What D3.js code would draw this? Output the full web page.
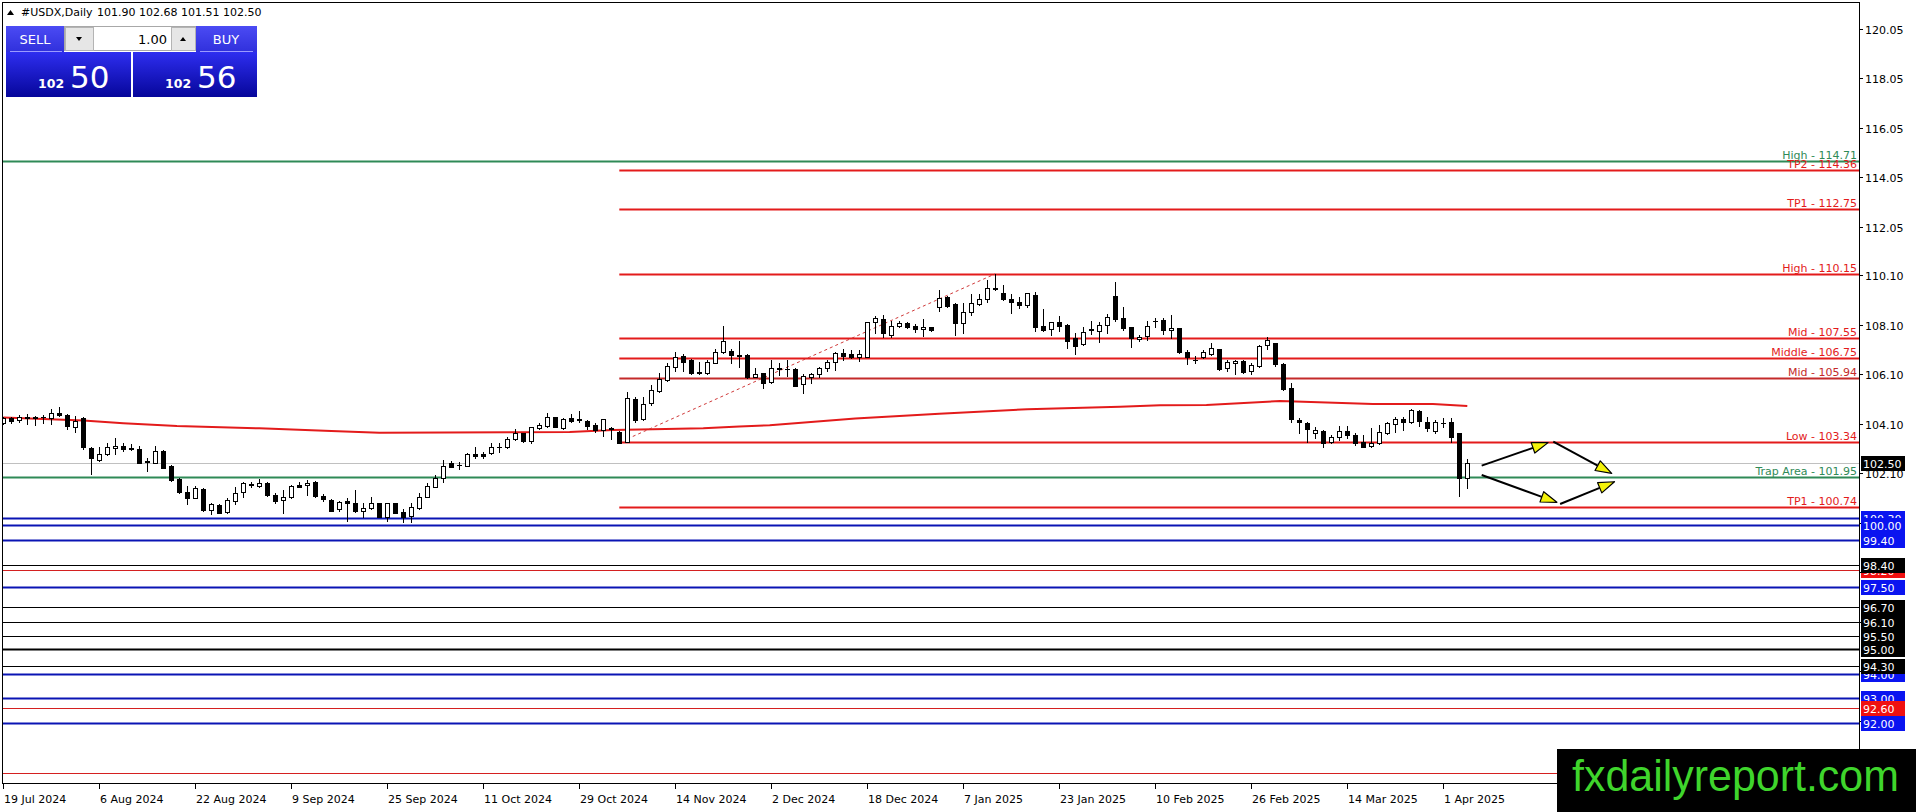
<!DOCTYPE html>
<html><head><meta charset="utf-8">
<script src="https://cdn.jsdelivr.net/npm/d3@7"></script>
<style>
html,body{margin:0;padding:0;background:#fff;overflow:hidden;}
svg{display:block;}
text{font-family:"DejaVu Sans",sans-serif;}
</style></head><body>
<svg id="c" width="1916" height="812"></svg>
<script>
// ---------------- DATA ----------------
const symbolTitle = "#USDX,Daily";
const lastQuote = [101.90, 102.68, 101.51, 102.50];
const bidPrice = ["102", "50"];
const askPrice = ["102", "56"];
const lotSize = "1.00";

const opens = [104.11,104.31,104.24,104.38,104.35,104.35,104.31,104.54,104.45,103.98,104.31,103.10,102.63,102.86,103.10,103.21,103.11,103.07,102.59,102.52,103.01,102.39,101.85,101.34,101.11,101.46,100.61,100.81,100.51,100.99,101.32,101.65,101.59,101.71,101.20,101.01,101.12,101.61,101.62,101.73,101.17,101.01,100.64,100.97,100.88,100.57,100.68,100.88,100.34,100.88,100.52,100.38,100.68,101.15,101.55,101.89,102.52,102.42,102.40,102.86,102.86,102.90,103.14,103.14,103.48,103.71,103.41,103.91,104.02,104.35,103.94,104.33,104.27,104.21,104.03,103.84,103.91,103.77,103.37,105.09,104.27,104.95,105.43,105.86,106.40,106.83,106.67,106.20,106.13,106.56,106.98,107.05,106.86,106.87,106.00,106.13,105.77,106.33,106.30,106.29,105.70,105.99,106.09,106.33,106.58,106.94,106.90,106.80,106.80,108.19,108.31,107.68,108.04,108.15,108.04,107.92,107.99,108.80,109.23,108.93,108.18,108.62,108.93,109.12,109.57,109.36,109.12,109.00,108.87,109.30,108.04,107.92,108.19,108.08,107.55,107.32,107.92,107.85,108.08,109.26,108.38,107.99,107.50,107.65,108.25,108.29,107.88,107.95,106.98,106.66,106.78,106.91,107.10,106.33,106.54,106.63,106.24,106.43,107.28,107.34,106.51,105.52,104.25,104.11,103.71,103.80,103.37,103.55,103.80,103.64,103.37,103.21,103.33,103.71,104.08,104.29,104.18,104.61,104.18,103.81,104.12,104.15,103.71,101.90];
const highs = [104.38,104.38,104.45,104.49,104.41,104.45,104.68,104.78,104.49,104.41,104.35,103.17,103.14,103.33,103.50,103.30,103.28,103.19,102.70,103.19,103.03,102.41,101.89,101.58,101.58,101.48,100.90,100.85,101.08,101.52,101.75,101.75,101.85,101.75,101.31,101.42,101.62,101.75,101.82,101.78,101.24,101.05,100.99,101.08,101.42,100.88,101.15,100.91,100.91,100.91,100.64,100.91,101.31,101.69,102.02,102.63,102.60,102.56,102.90,103.17,102.97,103.30,103.33,103.57,103.87,103.73,103.98,104.11,104.52,104.38,104.31,104.49,104.62,104.25,104.11,104.30,103.95,103.80,105.39,105.16,105.16,105.66,106.16,106.54,107.01,106.91,106.70,106.60,106.67,107.10,108.04,107.10,107.45,106.91,106.33,106.16,106.67,106.56,106.67,106.33,106.10,106.16,106.37,106.67,107.01,107.10,107.07,107.07,108.22,108.45,108.49,108.25,108.25,108.22,108.11,108.31,108.02,109.50,109.26,108.99,108.96,109.34,109.34,109.90,110.15,109.70,109.32,109.23,109.39,109.40,108.72,108.22,108.45,108.11,107.77,108.02,108.25,108.22,108.53,109.83,108.80,108.02,107.68,108.26,108.35,108.35,108.49,107.98,107.07,106.83,107.07,107.34,107.13,106.67,106.67,106.67,106.54,107.28,107.59,107.37,106.56,105.73,104.31,104.18,103.98,103.84,103.64,104.00,104.02,103.71,103.64,103.91,104.04,104.18,104.38,104.38,104.68,104.65,104.35,104.25,104.31,104.31,103.73,102.68];
const lows = [104.08,104.11,104.18,104.08,104.04,104.11,104.08,104.41,103.87,103.77,103.06,102.06,102.60,102.83,102.87,103.01,103.03,102.49,102.20,102.49,102.29,101.78,101.31,100.85,101.08,100.58,100.45,100.47,100.50,100.85,101.15,101.52,101.52,101.19,100.90,100.50,101.08,101.52,101.22,101.15,100.97,100.55,100.58,100.18,100.54,100.31,100.64,100.31,100.17,100.47,100.11,100.11,100.64,101.12,101.52,101.75,102.33,102.25,102.39,102.70,102.70,102.87,102.97,103.10,103.44,103.37,103.33,103.87,103.98,103.95,103.87,104.18,104.18,103.88,103.75,103.61,103.49,103.30,103.34,104.18,104.25,104.85,105.39,105.83,106.24,106.24,106.09,106.10,106.10,106.54,106.94,106.54,106.40,105.93,105.97,105.55,105.75,106.06,106.04,105.62,105.35,105.73,105.99,106.22,106.27,106.67,106.74,106.64,106.78,107.75,107.59,107.61,107.99,107.98,107.81,107.64,107.85,108.66,108.82,107.68,107.77,108.49,108.89,109.03,109.50,109.09,108.55,108.76,108.82,107.85,107.85,107.68,107.85,107.14,106.90,107.28,107.72,107.41,107.75,108.26,107.88,107.21,107.45,107.48,108.02,107.71,107.55,106.97,106.49,106.54,106.74,106.87,106.27,106.24,106.10,106.13,106.10,106.40,107.10,106.43,105.46,104.18,103.71,103.37,103.52,103.17,103.30,103.44,103.52,103.24,103.14,103.17,103.28,103.68,103.77,103.84,104.11,104.00,103.81,103.71,103.95,103.37,101.19,101.51];
const closes = [104.31,104.22,104.38,104.31,104.34,104.36,104.51,104.45,104.00,104.22,103.17,102.70,102.87,103.17,103.21,103.06,103.06,102.52,102.56,103.01,102.32,101.82,101.32,101.11,101.50,100.61,100.84,100.50,101.01,101.31,101.69,101.61,101.71,101.23,100.99,101.12,101.58,101.55,101.71,101.19,101.04,100.58,100.95,100.90,100.58,100.68,100.88,100.34,100.88,100.50,100.34,100.72,101.15,101.58,101.89,102.40,102.36,102.44,102.87,102.77,102.77,103.14,103.16,103.48,103.73,103.40,103.95,104.04,104.35,103.98,104.27,104.22,104.26,104.02,103.84,104.27,103.87,103.33,105.12,104.25,104.89,105.46,105.89,106.43,106.80,106.60,106.13,106.13,106.58,107.01,107.44,106.87,106.84,106.00,106.09,105.73,106.33,106.29,106.31,105.63,106.02,106.09,106.33,106.58,106.94,106.84,106.78,106.90,108.19,108.35,107.75,108.04,108.18,108.02,107.92,107.99,107.88,109.16,108.85,108.18,108.62,108.96,109.12,109.57,109.53,109.12,109.03,108.89,109.36,108.02,107.88,108.19,108.06,107.45,107.25,107.81,107.88,108.08,108.42,108.31,107.95,107.55,107.61,108.04,108.26,107.86,107.95,107.01,106.80,106.68,106.98,107.14,106.29,106.59,106.63,106.20,106.47,107.24,107.48,106.49,105.48,104.27,104.15,103.87,103.84,103.33,103.55,103.80,103.64,103.33,103.17,103.33,103.75,104.11,104.27,104.17,104.65,104.22,103.94,104.15,104.13,103.57,101.89,102.50];

// 200-day moving average read at sample bars
const maBars   = [0, 10, 15, 21.7, 32, 41, 47, 70.8, 76.2, 81.2, 87.5, 92, 95.8, 106.5, 117, 128, 139.6, 144.6, 150.4, 159.6, 171.2, 178.7, 183];
const maValues = [104.35,104.22,104.11,104.00,103.91,103.80,103.73,103.76,103.84,103.87,103.91,103.98,104.03,104.30,104.50,104.68,104.78,104.84,104.85,105.01,104.89,104.89,104.81];

// date axis
const dateTickBars = [0,12,24,36,48,60,72,84,96,108,120,132,144,156,168,180];
const dateTickLabels = ["19 Jul 2024","6 Aug 2024","22 Aug 2024","9 Sep 2024","25 Sep 2024","11 Oct 2024","29 Oct 2024","14 Nov 2024","2 Dec 2024","18 Dec 2024","7 Jan 2025","23 Jan 2025","10 Feb 2025","26 Feb 2025","14 Mar 2025","1 Apr 2025"];

// price axis
const priceTicks = [120.05,118.05,116.05,114.05,112.05,110.10,108.10,106.10,104.10,102.10,100.10,98.10,96.10,94.10,92.10,90.10];

// analysis levels (labelled on chart)
const zoneNames  = ["High","TP2","TP1","High","Mid","Middle","Mid","Low","Trap Area","TP1"];
const zoneValues = [114.71,114.36,112.75,110.15,107.55,106.75,105.94,103.34,101.95,100.74];
const zoneKinds  = ["green","red","red","red","red","red","darkred","red","green","red"];
const zoneStartBar = 77;

// horizontal support levels with price boxes
const srValues = [100.30,100.00,99.40,98.20,98.40,97.50,96.70,96.10,95.50,95.00,94.00,94.30,93.00,92.60,92.00,90.00];
const srKinds  = ["blue","blue","blue","red","black","blue","black","black","black","blackBold","blue","black","blue","red","blue","red"];

// trend line
const trendBars = [78, 124];
const trendValues = [103.48, 110.15];

// scenario arrows
const arrowStartBars   = [184.8, 193.75, 184.8, 194.6];
const arrowStartValues = [102.40, 103.37, 102.02, 100.85];
const arrowEndBars     = [193.1, 201.05, 194.2, 201.4];
const arrowEndValues   = [103.33, 102.09, 100.92, 101.75];

const watermark = "fxdailyreport.com";

// ---------------- STYLES ----------------
const RED = "#e31b1b";
const FS = "11px";
const zoneColor = {green:"#2f8a57", red:RED, darkred:"#c42a2a"};
const srStyle = {
  blue:{line:"#0a14b4", w:2, box:"#0a14f0", txt:"#fff"},
  black:{line:"#000", w:1, box:"#000", txt:"#fff"},
  blackBold:{line:"#000", w:2, box:"#000", txt:"#fff"},
  red:{line:"#d42020", w:1, box:"#f01010", txt:"#fff"}
};

// ---------------- CHART ----------------
const L=2, T=2, R=1859, B=783;
const svg = d3.select("#c");
const x = d3.scaleLinear().domain([0,183]).range([3.3, 3.3+8*183]);
const y = d3.scaleLinear().domain([89.58,121.13]).range([B, T]);

svg.append("rect").attr("width",1916).attr("height",812).attr("fill","#fff");
svg.append("defs").append("clipPath").attr("id","clip")
  .append("rect").attr("x",L+1).attr("y",T+1).attr("width",R-L-1).attr("height",B-T-1);

const plot = svg.append("g").attr("clip-path","url(#clip)");
const py = v => Math.round(y(v)) + 0.5;

// current price line
plot.append("line").attr("x1",L).attr("x2",R).attr("y1",py(lastQuote[3])).attr("y2",py(lastQuote[3]))
  .attr("stroke","#c0c0c0").attr("stroke-width",1);

// support levels (full width)
plot.selectAll("line.sr").data(srValues).join("line").attr("class","sr")
  .attr("x1",L).attr("x2",R)
  .attr("y1",d=>py(d)).attr("y2",d=>py(d))
  .attr("stroke",(d,i)=>srStyle[srKinds[i]].line)
  .attr("stroke-width",(d,i)=>srStyle[srKinds[i]].w);

// zone lines
plot.selectAll("line.zone").data(zoneValues).join("line").attr("class","zone")
  .attr("x1",(d,i)=>zoneKinds[i]==="green"?L:x(zoneStartBar)).attr("x2",R)
  .attr("y1",d=>py(d)).attr("y2",d=>py(d))
  .attr("stroke",(d,i)=>zoneColor[zoneKinds[i]]).attr("stroke-width",2);

// moving average
plot.append("path").datum(maBars.map((b,i)=>[b,maValues[i]]))
  .attr("d", d3.line().x(d=>x(d[0])).y(d=>y(d[1])))
  .attr("fill","none").attr("stroke",RED).attr("stroke-width",2);

// trend line (dashed)
plot.append("line").attr("x1",x(trendBars[0])).attr("y1",y(trendValues[0]))
  .attr("x2",x(trendBars[1])).attr("y2",y(trendValues[1]))
  .attr("stroke","#d03a3a").attr("stroke-width",1).attr("stroke-dasharray","3,3");

// candles
const idx = d3.range(opens.length);
const cg = plot.append("g").attr("shape-rendering","crispEdges");
cg.selectAll("line.wick").data(idx).join("line").attr("class","wick")
  .attr("x1",i=>Math.round(x(i))+0.5).attr("x2",i=>Math.round(x(i))+0.5)
  .attr("y1",i=>Math.round(y(highs[i]))).attr("y2",i=>Math.round(y(lows[i]))+1)
  .attr("stroke","#000").attr("stroke-width",1);
cg.selectAll("rect.body").data(idx).join("rect").attr("class","body")
  .each(function(i){
    const cx = Math.round(x(i));
    const top = Math.round(y(Math.max(opens[i],closes[i])));
    const bot = Math.round(y(Math.min(opens[i],closes[i])));
    const s = d3.select(this);
    if (bot - top < 1) {
      s.attr("x",cx-2).attr("y",top).attr("width",5).attr("height",1).attr("fill","#000");
    } else {
      s.attr("x",cx-1.5).attr("y",top+0.5).attr("width",4).attr("height",bot-top)
       .attr("fill",closes[i]>=opens[i]?"#fff":"#000").attr("stroke","#000").attr("stroke-width",1);
    }
  });

// arrows
const ag = plot.append("g");
arrowStartBars.forEach((b,i)=>{
  const x1=x(b), y1=y(arrowStartValues[i]), x2=x(arrowEndBars[i]), y2=y(arrowEndValues[i]);
  const ang=Math.atan2(y2-y1,x2-x1), len=16, hw=5.5;
  const bx=x2-len*Math.cos(ang), by=y2-len*Math.sin(ang);
  ag.append("line").attr("x1",x1).attr("y1",y1).attr("x2",bx).attr("y2",by)
    .attr("stroke","#000").attr("stroke-width",2);
  const p=[[x2,y2],[bx+hw*Math.sin(ang),by-hw*Math.cos(ang)],[bx-hw*Math.sin(ang),by+hw*Math.cos(ang)]];
  ag.append("polygon").attr("points",p.map(q=>q.join(",")).join(" "))
    .attr("fill","#f4f20a").attr("stroke","#000").attr("stroke-width",1.2).attr("stroke-linejoin","round");
});

// zone labels
plot.selectAll("text.zl").data(zoneValues).join("text").attr("class","zl")
  .attr("x",R-2).attr("y",d=>Math.round(y(d))-2)
  .attr("text-anchor","end").attr("font-size",FS)
  .attr("fill",(d,i)=>zoneColor[zoneKinds[i]])
  .text((d,i)=>zoneNames[i]+" - "+d.toFixed(2));

// frame
svg.append("rect").attr("x",L+0.5).attr("y",T+0.5).attr("width",R-L).attr("height",B-T)
  .attr("fill","none").attr("stroke","#000").attr("stroke-width",1).attr("shape-rendering","crispEdges");

// price axis
const ax = svg.append("g").attr("shape-rendering","crispEdges");
ax.selectAll("line").data(priceTicks).join("line")
  .attr("x1",R).attr("x2",R+4).attr("y1",d=>py(d)).attr("y2",d=>py(d)).attr("stroke","#000");
svg.selectAll("text.pt").data(priceTicks).join("text").attr("class","pt")
  .attr("x",R+6).attr("y",d=>Math.round(y(d))+4.5).attr("font-size",FS).attr("fill","#000")
  .text(d=>d.toFixed(2));

// price boxes for support levels
const bg = svg.append("g");
srValues.forEach((v,i)=>{
  const st=srStyle[srKinds[i]], yy=Math.round(y(v));
  bg.append("rect").attr("x",R+2).attr("y",yy-7).attr("width",44).attr("height",15).attr("fill",st.box);
  bg.append("text").attr("x",R+4).attr("y",yy+5).attr("font-size",FS).attr("fill",st.txt).text(v.toFixed(2));
});
// current price box
{
  const yy=Math.round(y(lastQuote[3]));
  bg.append("rect").attr("x",R+2).attr("y",yy-7).attr("width",44).attr("height",15).attr("fill","#000");
  bg.append("text").attr("x",R+4).attr("y",yy+5).attr("font-size",FS).attr("fill","#fff").text(lastQuote[3].toFixed(2));
}

// date axis
svg.append("g").attr("shape-rendering","crispEdges").selectAll("line").data(dateTickBars).join("line")
  .attr("x1",d=>Math.round(x(d))+0.5).attr("x2",d=>Math.round(x(d))+0.5)
  .attr("y1",B).attr("y2",B+6).attr("stroke","#000");
svg.selectAll("text.dt").data(dateTickBars).join("text").attr("class","dt")
  .attr("x",d=>Math.round(x(d))+1).attr("y",B+20).attr("font-size",FS).attr("fill","#000")
  .text((d,i)=>dateTickLabels[i]);

// header
svg.append("polygon").attr("points","7,15 10.5,10 14,15").attr("fill","#000");
svg.append("text").attr("x",21).attr("y",16).attr("font-size",FS).attr("fill","#000")
  .text(symbolTitle);
svg.append("text").attr("x",97).attr("y",16).attr("font-size",FS).attr("fill","#000")
  .text(lastQuote.map(v=>v.toFixed(2)).join(" "));

// one-click trading panel
const defs = svg.select("defs");
const g1 = defs.append("linearGradient").attr("id","gLab").attr("x1",0).attr("y1",0).attr("x2",0).attr("y2",1);
g1.append("stop").attr("offset","0").attr("stop-color","#4b4bf4");
g1.append("stop").attr("offset","1").attr("stop-color","#3030dc");
const g2 = defs.append("linearGradient").attr("id","gPx").attr("x1",0).attr("y1",0).attr("x2",0).attr("y2",1);
g2.append("stop").attr("offset","0").attr("stop-color","#2e2ef0");
g2.append("stop").attr("offset","1").attr("stop-color","#06069a");

const tp = svg.append("g").attr("shape-rendering","crispEdges");
tp.append("rect").attr("x",6).attr("y",26).attr("width",58).attr("height",26).attr("fill","url(#gLab)");
tp.append("rect").attr("x",196).attr("y",26).attr("width",61).attr("height",26).attr("fill","url(#gLab)");
tp.append("rect").attr("x",64.5).attr("y",26.5).attr("width",131).attr("height",24).attr("fill","#fff").attr("stroke","#a8a8a8");
tp.append("rect").attr("x",65).attr("y",27).attr("width",28).attr("height",23).attr("fill","#e6e6e6").attr("stroke","#b4b4b4");
tp.append("rect").attr("x",171).attr("y",27).attr("width",24).attr("height",23).attr("fill","#e6e6e6").attr("stroke","#b4b4b4");
tp.append("rect").attr("x",6).attr("y",52).attr("width",125).attr("height",45).attr("fill","url(#gPx)");
tp.append("rect").attr("x",133).attr("y",52).attr("width",124).attr("height",45).attr("fill","url(#gPx)");
tp.append("line").attr("x1",10).attr("x2",62).attr("y1",51.5).attr("y2",51.5).attr("stroke","#9a9aff");
tp.append("line").attr("x1",200).attr("x2",253).attr("y1",51.5).attr("y2",51.5).attr("stroke","#9a9aff");
svg.append("polygon").attr("points","76,37 82,37 79,41").attr("fill","#000");
svg.append("polygon").attr("points","180,41 186,41 183,37").attr("fill","#000");
svg.append("text").attr("x",167).attr("y",44).attr("text-anchor","end").attr("font-size","13px").attr("fill","#000").text(lotSize);
svg.append("text").attr("x",35).attr("y",44).attr("text-anchor","middle").attr("font-size","13px").attr("fill","#fff").text("SELL");
svg.append("text").attr("x",226).attr("y",44).attr("text-anchor","middle").attr("font-size","13px").attr("fill","#fff").text("BUY");
svg.append("text").attr("x",38).attr("y",88).attr("font-size","12.5px").attr("font-weight","bold").attr("fill","#fff").text(bidPrice[0]);
svg.append("text").attr("x",70).attr("y",88).attr("font-size","31px").attr("fill","#fff").text(bidPrice[1]);
svg.append("text").attr("x",165).attr("y",88).attr("font-size","12.5px").attr("font-weight","bold").attr("fill","#fff").text(askPrice[0]);
svg.append("text").attr("x",197).attr("y",88).attr("font-size","31px").attr("fill","#fff").text(askPrice[1]);

// watermark banner
svg.append("rect").attr("x",1557).attr("y",749).attr("width",359).attr("height",63).attr("fill","#000");
svg.append("text").attr("x",1572).attr("y",791)
  .style("font-family","'Liberation Sans Narrow','Liberation Sans',sans-serif")
  .attr("font-size","45px").attr("fill","#3fd52c")
  .attr("textLength",327).attr("lengthAdjust","spacingAndGlyphs").text(watermark);
</script>
</body></html>
